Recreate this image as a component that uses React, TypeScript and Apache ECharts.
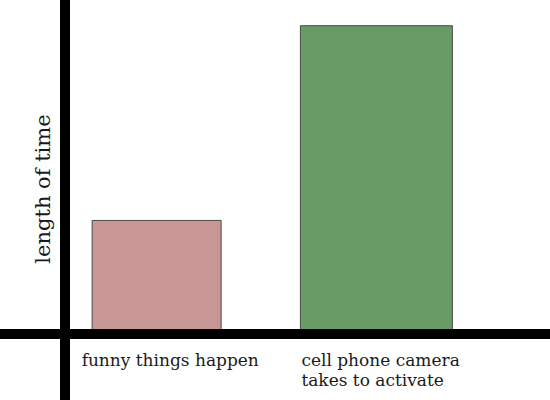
import React, { useEffect, useRef } from 'react';
import * as echarts from 'echarts';

// categories along the bottom, and the bar heights (arbitrary "time" units)
const categories = ['funny things happen', 'cell phone camera\ntakes to activate'];
const values = [34, 92.3];
const barColors = ['#c99696', '#699b67'];
const barWidths = [129, 152];

const FONT = 'DejaVu Serif';

const App: React.FC = () => {
  const chartRef = useRef<HTMLDivElement>(null);

  useEffect(() => {
    document.body.style.margin = '0';
    const chart = echarts.init(chartRef.current!, undefined, { renderer: 'svg' });

    const options = {
      animation: false,
      backgroundColor: '#ffffff',
      grid: {
        left: 46.75,
        width: 439.5,
        top: 0,
        bottom: 66,
        containLabel: false,
      },
      xAxis: {
        type: 'category',
        data: categories,
        axisLine: { show: false },
        axisTick: { show: false },
        axisLabel: {
          interval: 0,
          margin: 16,
          align: 'center',
          formatter: (value: string) =>
            value.split('\n').map((l) => `{a|${l}}`).join('\n'),
          rich: {
            a: {
              width: 150,
              align: 'left',
              fontSize: 17,
              lineHeight: 20,
              fontFamily: FONT,
              color: '#1a1a1a',
            },
          },
        },
      },
      yAxis: {
        type: 'value',
        min: 0,
        max: 100,
        offset: -18.25,
        name: 'length of time',
        nameLocation: 'middle',
        nameRotate: 90,
        nameGap: 12,
        nameTextStyle: {
          fontSize: 21,
          fontFamily: FONT,
          color: '#1a1a1a',
          padding: [0, 44, 0, 0],
        },
        axisLine: { show: false },
        axisTick: { show: false },
        axisLabel: { show: false },
        splitLine: { show: false },
      },
      graphic: [
        {
          type: 'line',
          z: 100,
          shape: { x1: 65, y1: 0, x2: 65, y2: 400 },
          style: { stroke: '#000', lineWidth: 10 },
        },
        {
          type: 'line',
          z: 100,
          shape: { x1: 0, y1: 334, x2: 550, y2: 334 },
          style: { stroke: '#000', lineWidth: 10 },
        },
      ],
      series: [
        {
          type: 'custom',
          silent: true,
          encode: { x: 0, y: 1 },
          renderItem: (params: any, api: any) => {
            const idx = api.value(0);
            const v = api.value(1);
            const top = api.coord([idx, v]);
            const base = api.coord([idx, 0]);
            const w = barWidths[params.dataIndex];
            return {
              type: 'rect',
              shape: { x: top[0] - w / 2, y: top[1], width: w, height: base[1] - top[1] },
              style: { fill: barColors[params.dataIndex], stroke: '#4a4a4a', lineWidth: 1 },
            };
          },
          data: values.map((v, i) => [i, v]),
        },
      ],
    };

    chart.setOption(options);

    return () => {
      chart.dispose();
    };
  }, []);

  return <div ref={chartRef} style={{ width: '550px', height: '400px' }} />;
};

export default App;
